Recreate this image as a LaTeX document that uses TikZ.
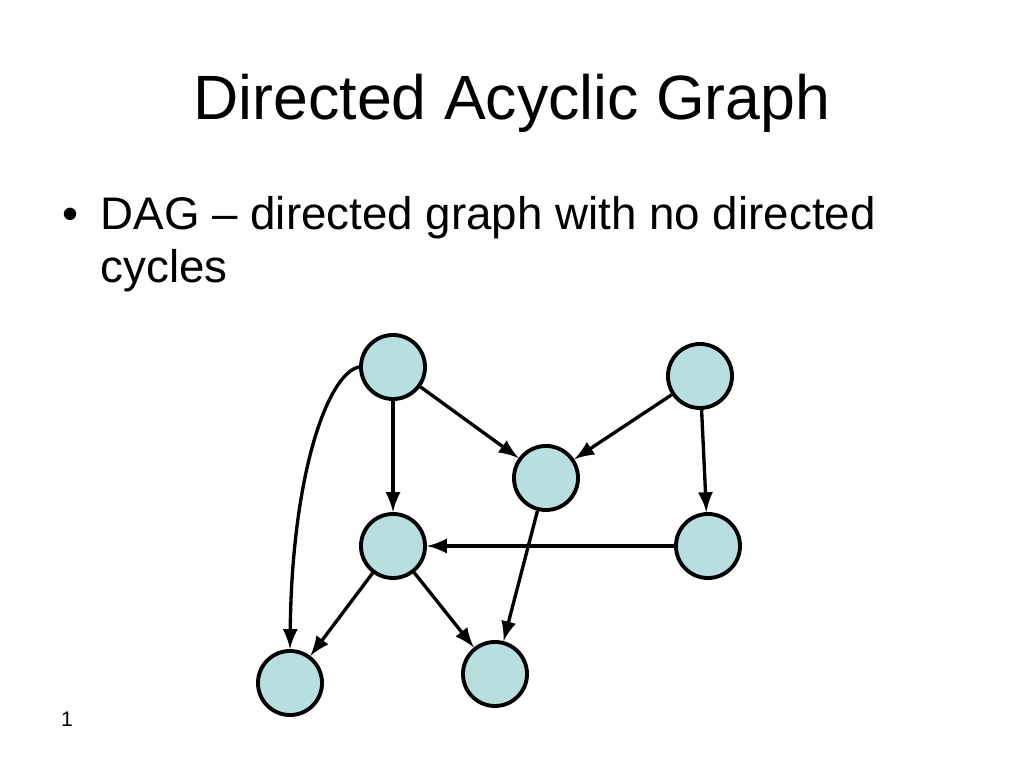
\documentclass[tikz,border=0pt]{standalone}
\usepackage{fontspec}
\setmainfont{Liberation Sans}
\usetikzlibrary{arrows,positioning}
\definecolor{NodeTeal}{RGB}{183,223,224}

\begin{document}
\begin{tikzpicture}[
    x=0.01cm, y=-0.01cm,
    vertex/.style={circle, draw=black, fill=NodeTeal, line width=1.1pt, minimum size=0.64cm, inner sep=0pt},
    edge/.style={->, >=latex, line width=0.95pt, black},
    title/.style={font=\fontsize{17.8}{22}\selectfont, anchor=base, inner sep=0pt},
    bullet/.style={font=\fontsize{13}{15}\selectfont, anchor=base west, inner sep=0pt}
]
\useasboundingbox (0,0) rectangle (1024,768);

% Title and text
\node[title] (heading) at (512,120) {Directed Acyclic Graph};
\node[bullet] (dot) at (62,230) {•};
\node[bullet] (line1) at (100,230) {DAG – directed graph with no directed};
\node[bullet] (line2) at (100,283) {cycles};
\node[font=\fontsize{6}{7}\selectfont, anchor=base, inner sep=0pt] (pagenum) at (67,727) {1};

% Vertices
\node[vertex] (a) at (393,367) {};
\node[vertex] (b) at (700,376) {};
\node[vertex] (c) at (546,478) {};
\node[vertex] (d) at (393,546) {};
\node[vertex] (e) at (708,546) {};
\node[vertex] (f) at (290,683) {};
\node[vertex] (g) at (495,674) {};

% Edges
\draw[edge] (a) -- (c);
\draw[edge] (b) -- (c);
\draw[edge] (a) -- (d);
\draw[edge] (b) -- (e);
\draw[edge] (e) -- (d);
\draw[edge] (c) -- (g);
\draw[edge] (d) -- (f);
\draw[edge] (d) -- (g);
\draw[edge] (a.west) .. controls +(-30,6) and +(2,-180) .. (f.north);

\end{tikzpicture}
\end{document}
